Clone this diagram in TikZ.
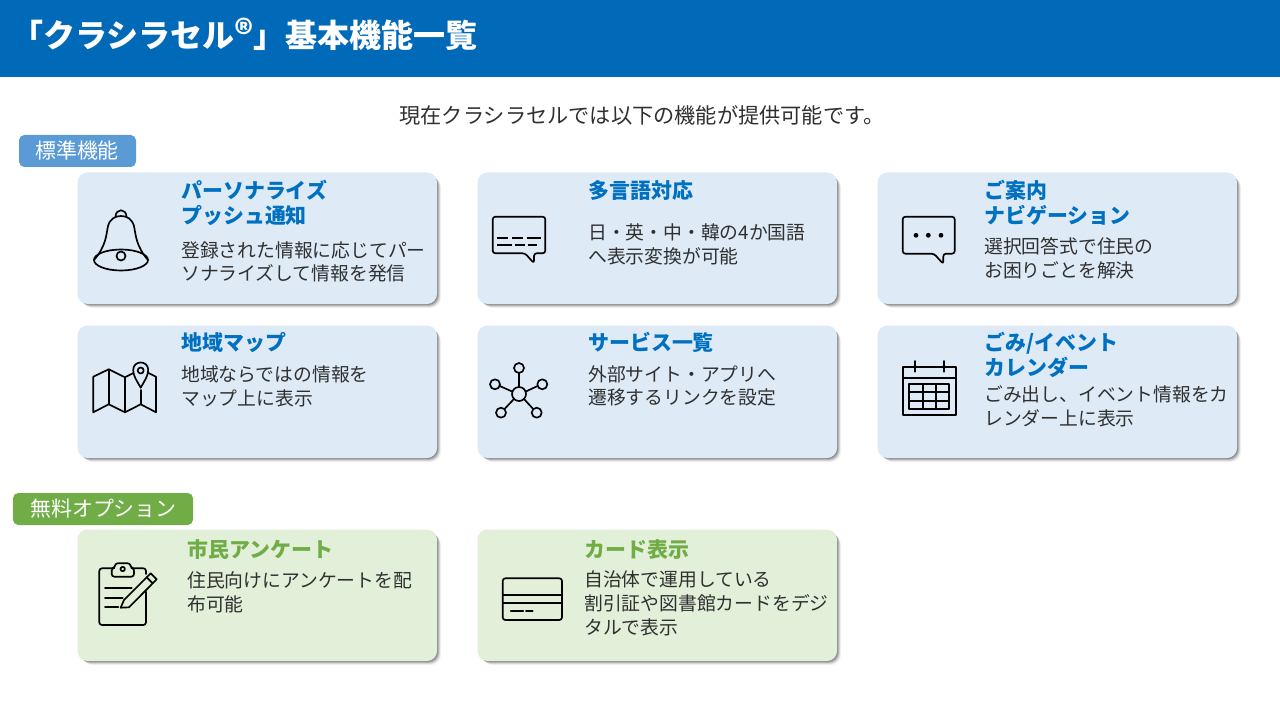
\documentclass[tikz,border=0pt]{standalone}
\usepackage{fontspec}
\setmainfont{Noto Sans CJK JP}
\usetikzlibrary{calc}
\definecolor{hdr}{HTML}{0069B8}
\definecolor{hblue}{HTML}{0070C0}
\definecolor{cblue}{HTML}{DEEAF6}
\definecolor{cgreen}{HTML}{E2EFD9}
\definecolor{tblue}{HTML}{5B9BD5}
\definecolor{tgreen}{HTML}{70AD47}
\definecolor{ink}{HTML}{303030}
\tikzset{
  x=0.75pt,y=-0.75pt,
  ic/.style={draw=black,line width=1.25pt,line join=round,line cap=round,fill=none},
  headb/.style={anchor=west,inner sep=0,align=left,text=hblue,font=\bfseries\fontsize{15.7}{18.75}\selectfont},
  headg/.style={headb,text=tgreen},
  bodyt/.style={anchor=west,inner sep=0,align=left,text=ink,font=\fontsize{14.1}{17.8}\selectfont},
  tagt/.style={anchor=center,inner sep=0,text=white,font=\fontsize{15.7}{18}\selectfont},
}
\newcommand{\card}[6]{%
  \foreach \o/\a in {5/0.05,4/0.10,3/0.16,2/0.22}{
    \fill[black,opacity=\a,rounded corners=7.5pt] (#2+\o,#3+\o) rectangle (#4+\o-1,#5+\o-1);}
  \path[fill=#6,rounded corners=7.5pt] (#2,#3) rectangle (#4,#5) node[midway,inner sep=0] (#1) {};
}
\begin{document}
\begin{tikzpicture}
\useasboundingbox (0,0) rectangle (1280,720);
\fill[white] (0,0) rectangle (1280,720);
\fill[hdr] (0,0) rectangle (1280,77);
\node[anchor=base west,inner sep=0,text=white,font=\bfseries\fontsize{24}{28}\selectfont] (title) at (11,48) {「クラシラセル\makebox[14.4pt][c]{\fontsize{27}{27}\selectfont ®}」基本機能一覧};
\node[anchor=center,inner sep=0,text=ink,font=\fontsize{15.9}{18}\selectfont] (lead) at (642,115.5) {現在クラシラセルでは以下の機能が提供可能です。};
\fill[tblue,rounded corners=4pt] (19,135) rectangle (136,167);
\node[tagt] (tag1) at (77,150.5) {標準機能};
\fill[tgreen,rounded corners=4pt] (13,493) rectangle (193,525);
\node[tagt] (tag2) at (103.5,508.5) {無料オプション};

\card{c1}{77.5}{172.5}{437}{304}{cblue}
\card{c2}{477.5}{172.5}{837}{304}{cblue}
\card{c3}{877.5}{172.5}{1237}{304}{cblue}
\card{c4}{77.5}{325.5}{437}{458}{cblue}
\card{c5}{477.5}{325.5}{837}{458}{cblue}
\card{c6}{877.5}{325.5}{1237}{458}{cblue}
\card{c7}{77.5}{529.5}{437}{661}{cgreen}
\card{c8}{477.5}{529.5}{837}{661}{cgreen}

\node[headb] (h1) at (181,203) {パーソナライズ\\プッシュ通知};
\node[bodyt] (b1) at (181,262) {登録された情報に応じてパー\\ソナライズして情報を発信};
\node[headb] (h2) at (588,190.5) {多言語対応};
\node[bodyt] (b2) at (588,244.5) {日・英・中・韓の4か国語\\へ表示変換が可能};
\node[headb] (h3) at (984,203) {ご案内\\ナビゲーション};
\node[bodyt] (b3) at (984,258) {選択回答式で住民の\\お困りごとを解決};
\node[headb] (h4) at (181,342.5) {地域マップ};
\node[bodyt] (b4) at (181,386) {地域ならではの情報を\\マップ上に表示};
\node[headb] (h5) at (588,342.5) {サービス一覧};
\node[bodyt] (b5) at (588,386) {外部サイト・アプリへ\\遷移するリンクを設定};
\node[headb] (h6) at (984,355) {ごみ/イベント\\カレンダー};
\node[bodyt] (b6) at (984,406.5) {ごみ出し、イベント情報をカ\\レンダー上に表示};
\node[headg] (h7) at (187,549.5) {市民アンケート};
\node[bodyt] (b7) at (187,592.5) {住民向けにアンケートを配\\布可能};
\node[headg] (h8) at (584,549.5) {カード表示};
\node[bodyt] (b8) at (584,603.5) {自治体で運用している\\割引証や図書館カードをデジ\\タルで表示};

% bell
\draw[ic] (121,260) ellipse (27 and 10.5);
\draw[ic] (121,256) circle (4.5);
\draw[ic] (94,260) .. controls (106,246) and (106,236) .. (108,226) .. controls (110,219) and (115,216) .. (121,216) .. controls (127,216) and (132,219) .. (134,226) .. controls (136,236) and (136,246) .. (148,260);
\draw[ic] (115.5,217) .. controls (115.5,208) and (126.5,208) .. (126.5,217);
% map
\draw[ic] (133,373.2) -- (125,377.3) -- (108.7,369.3) -- (93.3,376.7) -- (93.3,412.3) -- (108.7,404.3) -- (125,412.3) -- (140.7,404.3) -- (156,412.3) -- (156,376.7) -- (148.5,373);
\draw[ic] (108.7,369.3) -- (108.7,404.3) (125,377.3) -- (125,412.3) (140.7,390) -- (140.7,404.3);
\draw[ic] (140.7,387.7) .. controls (137,381) and (133.2,376) .. (133.2,370) .. controls (133.2,360) and (148.2,360) .. (148.2,370) .. controls (148.2,376) and (144.4,381) .. (140.7,387.7) -- cycle;
\draw[ic] (140.7,370.5) circle (3);
% network
\draw[ic] (519,394) circle (7) (519,368) circle (5) (495,384.3) circle (5) (542.3,384.3) circle (5) (501,412.7) circle (5) (536.7,412.7) circle (5);
\draw[ic] (519,387) -- (519,373) (512.4,391.6) -- (499.7,386) (525.6,391.6) -- (537.6,386) (514,399) -- (504.5,409) (524,399) -- (533.2,409);
% bubble 1
\draw[ic,rounded corners=2pt] (492.7,216.7) -- (545.3,216.7) -- (545.3,253.3) -- (534,253.3) -- (534,263.3) -- (525,253.3) -- (492.7,253.3) -- cycle;
\draw[ic,line cap=butt] (497.3,238.3) -- (508.3,238.3) (511.7,238.3) -- (523.3,238.3) (526.7,238.3) -- (540.7,238.3)
 (497.3,244.7) -- (511.7,244.7) (515,244.7) -- (525,244.7) (528.3,244.7) -- (536.7,244.7);
% bubble 2
\draw[ic,rounded corners=2pt] (902.7,216.7) -- (954.7,216.7) -- (954.7,253.7) -- (943.3,253.7) -- (943.3,264) -- (934,253.7) -- (902.7,253.7) -- cycle;
\fill[black] (916,235.3) circle (2.4) (928.3,235.3) circle (2.4) (941,235.3) circle (2.4);
% calendar
\draw[ic] (903.3,366.7) rectangle (955.7,415);
\draw[ic] (903.3,377.7) -- (955.7,377.7) (914.7,361) -- (914.7,371.7) (944,361) -- (944,371.7);
\draw[ic] (909.3,383.7) rectangle (949.3,409);
\draw[ic] (909.3,392.3) -- (949.3,392.3) (909.3,400.7) -- (949.3,400.7) (923.3,383.7) -- (923.3,409) (936,383.7) -- (936,409);
% clipboard
\draw[ic,rounded corners=2pt] (111.7,568.3) -- (99.3,568.3) -- (99.3,625) -- (146,625) -- (146,591.7);
\draw[ic,rounded corners=2pt] (134,568.3) -- (146,568.3) -- (146,574);
\draw[ic,rounded corners=2pt] (111.7,576.7) -- (111.7,568) -- (115,568) -- (115,563.3) -- (130.5,563.3) -- (130.5,568) -- (134,568) -- (134,576.7) -- cycle;
\draw[ic] (122.7,569) circle (2.2);
\draw[ic] (105,588.3) -- (131.7,588.3) (105,597.7) -- (122.7,597.7) (105,607.3) -- (118.3,607.3);
\draw[ic] (120.7,607.7) -- (124,600) -- (150.7,573.3) -- (156.7,579.3) -- (129,607.3) -- cycle;
\draw[ic] (146.7,577.3) -- (152.7,583.3);
% card
\draw[ic,rounded corners=2pt] (502.7,578.3) rectangle (562,620);
\draw[ic] (502.7,594.7) -- (562,594.7) (502.7,602.7) -- (562,602.7);
\draw[ic] (510.7,610.7) -- (523.3,610.7) (526,610.7) -- (532.7,610.7);
\end{tikzpicture}
\end{document}
